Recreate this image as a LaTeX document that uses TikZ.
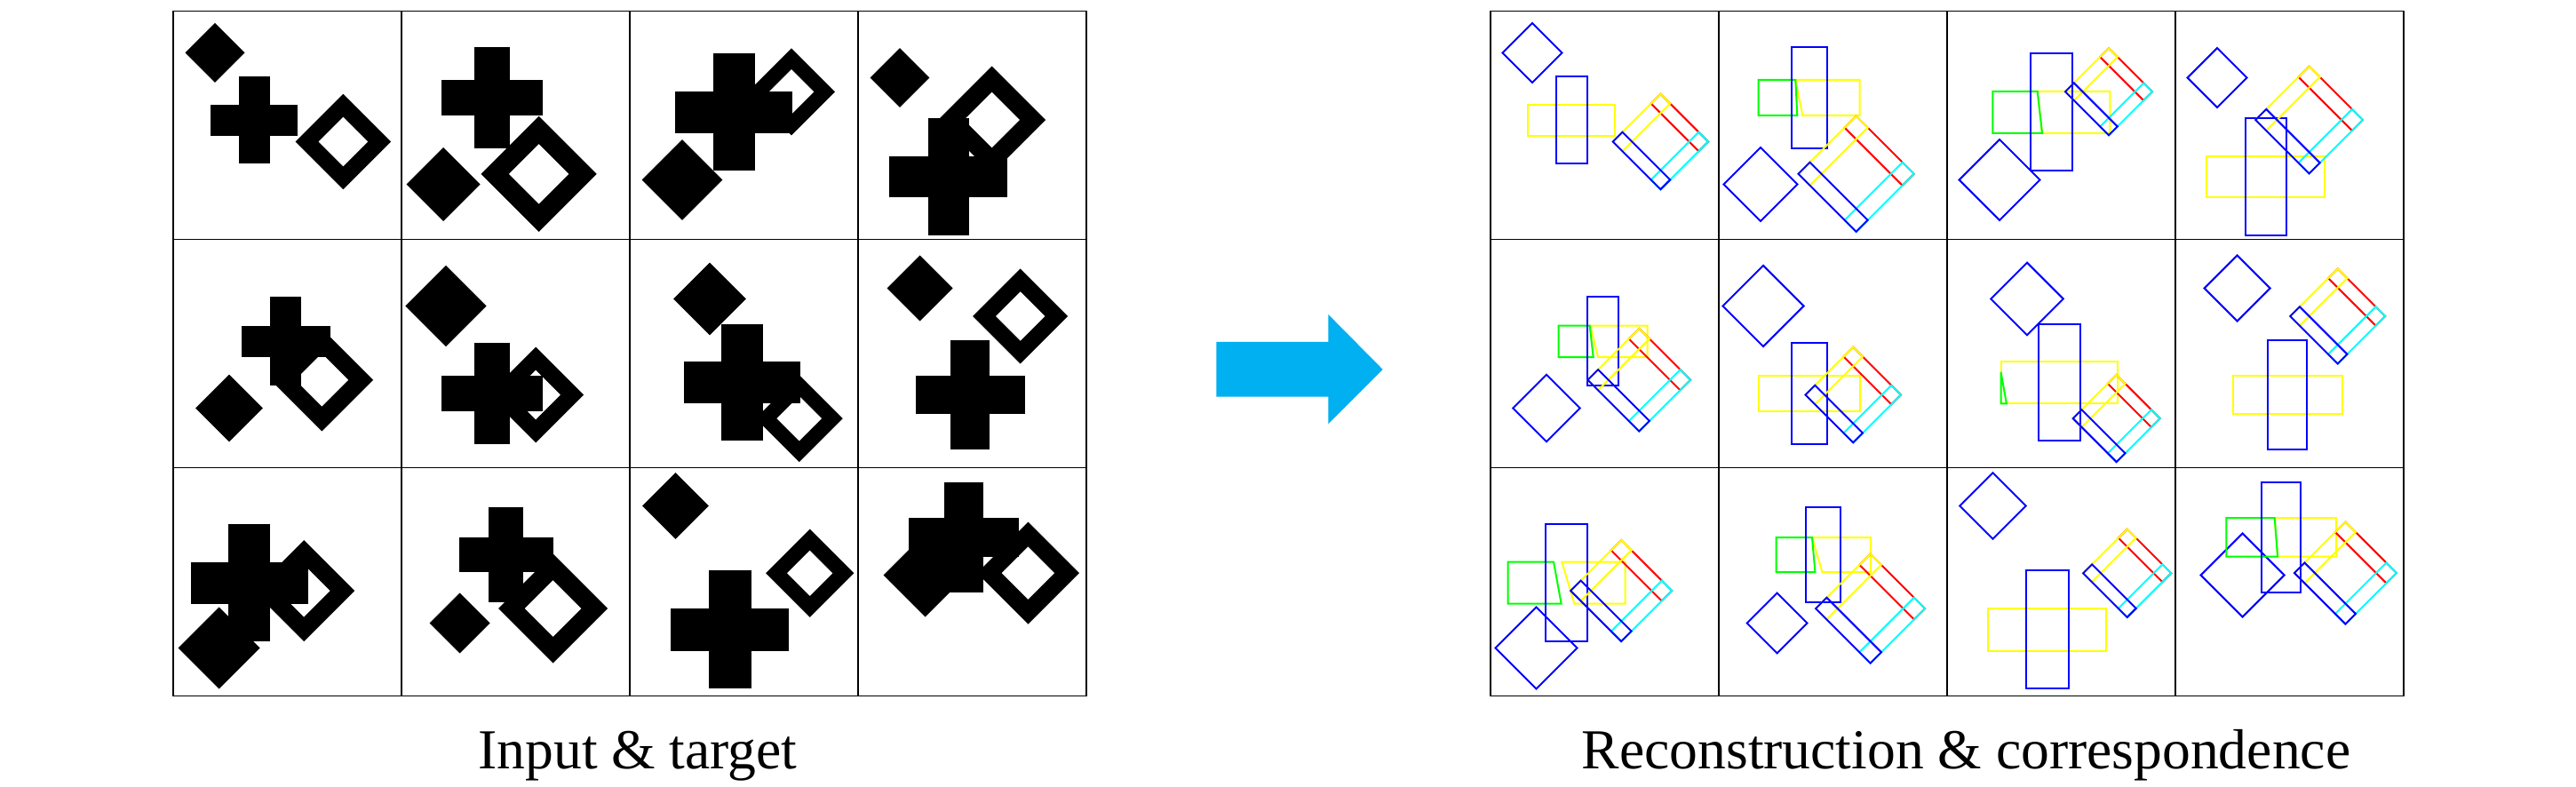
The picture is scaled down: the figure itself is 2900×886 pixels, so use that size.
\documentclass[tikz,border=0pt]{standalone}
\usepackage{fontspec}
\setmainfont{Liberation Serif}
\definecolor{arrowblue}{HTML}{00B0F0}
\definecolor{pblue}{RGB}{0,0,255}
\definecolor{pyellow}{RGB}{255,255,0}
\definecolor{pred}{RGB}{255,0,0}
\definecolor{pcyan}{RGB}{0,255,255}
\definecolor{pgreen}{RGB}{0,255,0}
\tikzset{
  gridline/.style={draw=black, line width=0.3pt},
  outl/.style={line width=0.5pt, line join=miter},
  lbl/.style={anchor=base, inner sep=0pt, font=\fontsize{15.9}{19}\selectfont},
}
% ---- left (filled) versions
\newcommand\DmdL[3]{\fill[black] ({#1-#3},{#2}) -- ({#1},{#2-#3}) -- ({#1+#3},{#2}) -- ({#1},{#2+#3}) -- cycle;}
\newcommand\CrsL[4]{\fill[black] ({#1-#3/2},{#2-#4/2}) rectangle ({#1+#3/2},{#2+#4/2});
  \fill[black] ({#1-#4/2},{#2-#3/2}) rectangle ({#1+#4/2},{#2+#3/2});}
\newcommand\CrsSL[8]{\CrsL{#1}{#2}{#3}{#4}}
\newcommand\FrmL[3]{\fill[black,even odd rule] ({#1-#3},{#2}) -- ({#1},{#2-#3}) -- ({#1+#3},{#2}) -- ({#1},{#2+#3}) -- cycle
  ({#1-0.52*#3},{#2}) -- ({#1},{#2-0.52*#3}) -- ({#1+0.52*#3},{#2}) -- ({#1},{#2+0.52*#3}) -- cycle;}
\newcommand\ROnlyL[1]{}
% ---- right (outline) versions
\newcommand\DmdR[3]{\draw[outl,pblue] ({#1-#3},{#2}) -- ({#1},{#2-#3}) -- ({#1+#3},{#2}) -- ({#1},{#2+#3}) -- cycle;}
\newcommand\CrsR[4]{\draw[outl,pyellow] ({#1-#3/2},{#2-#4/2}) rectangle ({#1+#3/2},{#2+#4/2});
  \draw[outl,pblue] ({#1-#4/2},{#2-#3/2}) rectangle ({#1+#4/2},{#2+#3/2});}
\newcommand\CrsSR[8]{%
  \draw[outl,pyellow] ({#7},{#2-#4/2}) -- ({#1+#3/2},{#2-#4/2}) -- ({#1+#3/2},{#2+#4/2}) -- ({#8},{#2+#4/2}) -- cycle;
  \draw[outl,pgreen] ({#1-#3/2},{#2-#4/2}) -- ({#5},{#2-#4/2}) -- ({#6},{#2+#4/2}) -- ({#1-#3/2},{#2+#4/2}) -- cycle;
  \draw[outl,pblue] ({#1-#4/2},{#2-#3/2}) rectangle ({#1+#4/2},{#2+#3/2});}
\newcommand\FrmR[3]{\begin{scope}[shift={(#1,#2)}]
  \draw[outl,pred] (0,{-#3}) -- ({#3},0) -- ({0.8*#3},{0.2*#3}) -- ({-0.2*#3},{-0.8*#3}) -- cycle;
  \draw[outl,pyellow] ({-#3},0) -- (0,{-#3}) -- ({0.2*#3},{-0.8*#3}) -- ({-0.8*#3},{0.2*#3}) -- cycle;
  \draw[outl,pcyan] ({#3},0) -- (0,{#3}) -- ({-0.2*#3},{0.8*#3}) -- ({0.8*#3},{-0.2*#3}) -- cycle;
  \draw[outl,pblue] (0,{#3}) -- ({-#3},0) -- ({-0.8*#3},{-0.2*#3}) -- ({0.2*#3},{0.8*#3}) -- cycle;
  \end{scope}}
\newcommand\ROnlyR[1]{#1}
\newcommand\SetLeftMode{\let\Dmd\DmdL\let\Crs\CrsL\let\CrsS\CrsSL\let\Frm\FrmL\let\ROnly\ROnlyL}
\newcommand\SetRightMode{\let\Dmd\DmdR\let\Crs\CrsR\let\CrsS\CrsSR\let\Frm\FrmR\let\ROnly\ROnlyR}
% ---- cell contents (local pixel coordinates, y downwards)
\newcommand\CellAA{\Dmd{47}{47}{33.5}\Crs{91}{123}{98}{35}\Frm{191.4}{147}{53.7}}
\newcommand\CellAB{\Dmd{47}{195}{41.5}\CrsS{101.5}{97.5}{114}{40}{86.3}{88.3}{86.3}{94.3}\Frm{154.6}{183.3}{65.1}}
\newcommand\CellAC{\Dmd{59}{190}{45.4}\CrsS{117.3}{114}{132}{47}{101.7}{107}{101.7}{107}\Frm{182}{90.8}{49}}
\newcommand\CellAD{\Dmd{47}{75}{33.4}\Crs{101.5}{186.5}{132.5}{46}\Frm{150.6}{122.5}{60.4}}
\newcommand\CellBA{\Dmd{63}{190}{37.8}\CrsS{126.7}{115}{100}{35.5}{111.7}{115.7}{112.4}{121.1}\Frm{167.3}{158.2}{57.8}}
\newcommand\CellBB{\Dmd{50}{75}{45.6}\Crs{102}{174}{114}{40}\Frm{151.2}{175}{53.8}}
\newcommand\CellBC{\Dmd{90}{67}{40.8}\Crs{126}{161.5}{131}{47}\ROnly{\draw[outl,pgreen] (60.5,149.3) -- (66.9,185) -- (60.5,185) -- cycle;}\Frm{190.7}{201.6}{49}}
\newcommand\CellBD{\Dmd{69.6}{55}{37}\Crs{126}{174.8}{123}{43.5}\Frm{182.7}{86.5}{53.5}}
\newcommand\CellCA{\Dmd{51.5}{203}{46}\CrsS{85.5}{129.5}{132}{47}{71}{79.6}{80.3}{94.3}\Frm{147.2}{138.6}{57}}
\newcommand\CellCB{\Dmd{65.6}{175}{33.9}\CrsS{117.8}{98}{106.5}{39}{105}{108.4}{105}{116.4}\Frm{170.6}{158.6}{61.5}}
\newcommand\CellCC{\Dmd{51.5}{43}{37.3}\Crs{112.7}{182}{132.5}{48}\Frm{202.7}{118.8}{49.6}}
\newcommand\CellCD{\Dmd{75.6}{121}{47}\CrsS{119}{78.4}{123.5}{43.5}{111.7}{115.1}{111.7}{115.1}\Frm{191.4}{118.6}{57.5}}
\newcommand\DrawCells[1]{%
  \foreach \m [count=\i from 0] in {AA,AB,AC,AD,BA,BB,BC,BD,CA,CB,CC,CD} {
    \pgfmathtruncatemacro\cc{mod(\i,4)}
    \pgfmathtruncatemacro\rr{floor(\i/4)}
    \begin{scope}[shift={({#1+257*\cc},{12.5+257*\rr})}]
      \csname Cell\m\endcsname
    \end{scope}
  }}
\begin{document}
\begin{tikzpicture}[x=0.25pt, y=-0.25pt]
  \useasboundingbox (0,0) rectangle (2900,886);
  \fill[white] (0,0) rectangle (2900,886);
  % left grid: input & target
  \SetLeftMode
  \DrawCells{195}
  % right grid: reconstruction & correspondence
  \SetRightMode
  \DrawCells{1678}
  % grid lines
  \foreach \gx in {195,1678} {
    \draw[gridline] (\gx,12.5) rectangle ({\gx+1028},783.5);
    \foreach \k in {1,2,3} \draw[gridline] ({\gx+257*\k},12.5) -- ({\gx+257*\k},783.5);
    \foreach \k in {1,2} \draw[gridline] (\gx,{12.5+257*\k}) -- ({\gx+1028},{12.5+257*\k});
  }
  % arrow
  \fill[arrowblue] (1369.3,385) -- (1495.3,385) -- (1495.3,354) -- (1556.7,416)
    -- (1495.3,477.3) -- (1495.3,446.7) -- (1369.3,446.7) -- cycle;
  % labels
  \node[lbl] (inlabel) at (718,865) {Input \& target};
  \node[lbl] (outlabel) at (2213.5,865) {Reconstruction \& correspondence};
\end{tikzpicture}
\end{document}
